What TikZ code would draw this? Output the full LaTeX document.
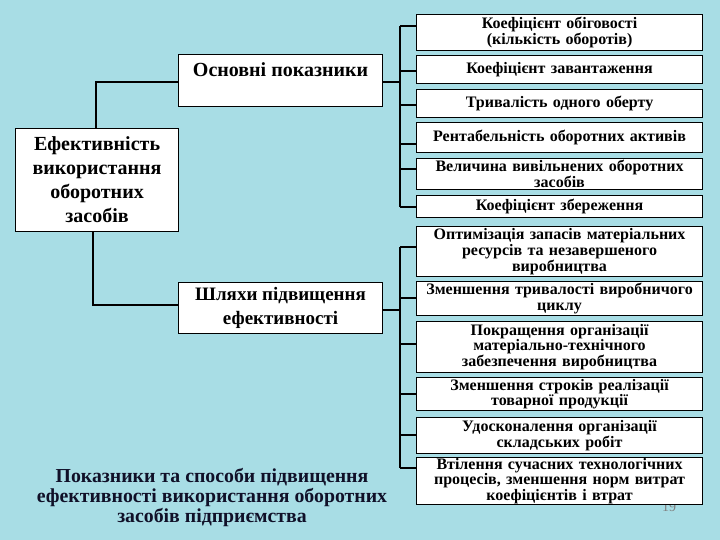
\documentclass[tikz,border=0pt]{standalone}
\usepackage{fontspec}
\setmainfont{Liberation Serif}
\definecolor{bgc}{RGB}{168,221,229}
\definecolor{titlec}{RGB}{16,16,40}
\tikzset{
  x=1pt, y=-1pt,
  rbox/.style={draw=black, line width=1.1pt, fill=white, anchor=north west,
    minimum width=286pt, text width=284pt, align=center, inner sep=0.5pt,
    font=\bfseries\fontsize{16}{14}\selectfont},
  loose/.style={font=\bfseries\fontsize{16}{15.5}\selectfont},
  lbox/.style={draw=black, line width=1.1pt, fill=white, anchor=north west,
    align=center, inner sep=2pt,
    font=\bfseries\fontsize{20}{24}\selectfont},
  conn/.style={draw=black, line width=1.1pt}
}
\begin{document}
\begin{tikzpicture}
\fill[bgc] (0,0) rectangle (720,540);
\useasboundingbox (0,0) rectangle (720,540);

% page number behind last box
\node[text=gray, font=\fontsize{14}{14}\selectfont] (pg) at (669,507) {19};

% right boxes
\node[rbox, loose, minimum height=36pt] (r1) at (416,14) {Коефіцієнт обіговості\\(кількість оборотів)};
\node[rbox, minimum height=28pt] (r2) at (416,55) {Коефіцієнт завантаження};
\node[rbox, minimum height=28pt] (r3) at (416,89) {Тривалість одного оберту};
\node[rbox, minimum height=30pt] (r4) at (416,122) {Рентабельність оборотних активів};
\node[rbox, minimum height=31pt] (r5) at (416,158) {Величина вивільнених оборотних\\засобів};
\node[rbox, minimum height=22pt] (r6) at (416,195) {Коефіцієнт збереження};
\node[rbox, minimum height=50pt] (r7) at (416,226) {Оптимізація запасів матеріальних\\ресурсів та незавершеного\\виробництва};
\node[rbox, loose, minimum height=34pt] (r8) at (416,281) {Зменшення тривалості виробничого\\циклу};
\node[rbox, loose, minimum height=51pt] (r9) at (416,321) {Покращення організації\\матеріально-технічного\\забезпечення виробництва};
\node[rbox, minimum height=33pt] (r10) at (416,377) {Зменшення строків реалізації\\товарної продукції};
\node[rbox, minimum height=36pt] (r11) at (416,417) {Удосконалення організації\\складських робіт};
\node[rbox, minimum height=45pt] (r12) at (416,457) {Втілення сучасних технологічних\\процесів, зменшення норм витрат\\коефіцієнтів і втрат};

% left boxes
\node[lbox, minimum width=163pt, minimum height=103pt] (main) at (15,128) {Ефективність\\використання\\оборотних\\засобів};
\node[lbox, minimum width=204pt, minimum height=52pt] (osn) at (178,54) {Основні показники\\[-2pt]~};
\node[lbox, minimum width=204pt, minimum height=51pt, font=\bfseries\fontsize{19}{24}\selectfont] (way) at (178,282) {Шляхи підвищення\\ефективності};

% title
\node[text=titlec, align=center, font=\bfseries\fontsize{19.8}{20}\selectfont] (title) at (212,498)
  {Показники та способи підвищення\\ефективності використання оборотних\\засобів підприємства};

% bus coordinates
\coordinate (a1) at (400,26);
\coordinate (a2) at (400,71);
\coordinate (a3) at (400,105);
\coordinate (a4) at (400,144);
\coordinate (a5) at (400,169);
\coordinate (a6) at (400,207);
\coordinate (b1) at (400,247);
\coordinate (b2) at (400,298);
\coordinate (b3) at (400,344);
\coordinate (b4) at (400,394);
\coordinate (b5) at (400,435);
\coordinate (b6) at (400,468);
\coordinate (ja) at (400,82);
\coordinate (jb) at (400,310);
\coordinate (k1) at (96,82);
\coordinate (k2) at (93,305);

% buses
\draw[conn] (a1) -- (a6);
\draw[conn] (b1) -- (b6);
\foreach \p/\r in {a1/r1,a2/r2,a3/r3,a4/r4,a5/r5,a6/r6,b1/r7,b2/r8,b3/r9,b4/r10,b5/r11,b6/r12}
  \draw[conn] (\p) -- (\p -| \r.west);
\draw[conn] (osn.east |- ja) -- (ja);
\draw[conn] (way.east |- jb) -- (jb);

% left tree
\draw[conn] (osn.west |- k1) -- (k1) -- (k1 |- main.north);
\draw[conn] (main.south -| k2) -- (k2) -- (k2 -| way.west);
\end{tikzpicture}
\end{document}
